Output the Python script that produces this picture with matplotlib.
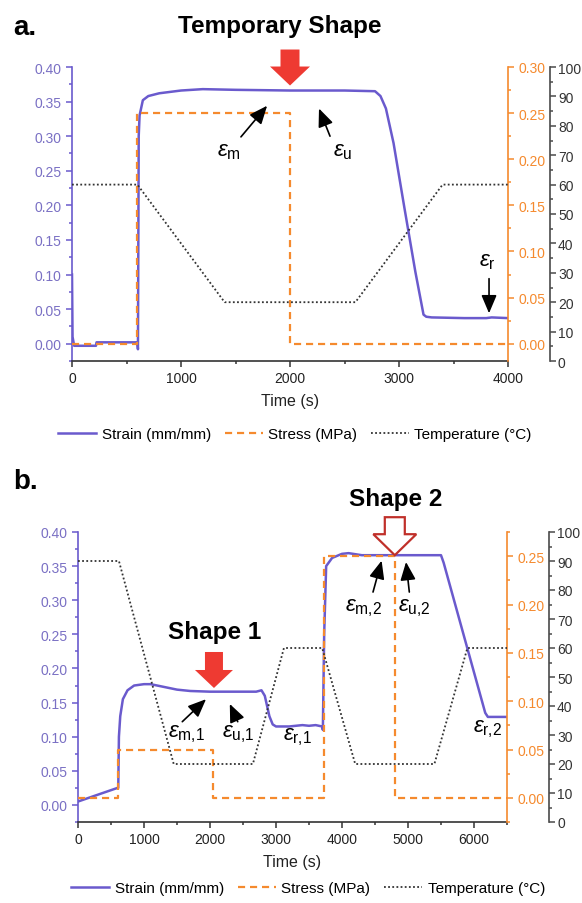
import matplotlib
matplotlib.use("Agg")
import matplotlib.pyplot as plt
import matplotlib.transforms as mtransforms
from matplotlib.patches import Polygon
from matplotlib.lines import Line2D
from matplotlib.ticker import MultipleLocator, FormatStrFormatter

plt.rcParams['font.family'] = ['Liberation Sans', 'DejaVu Sans']
plt.rcParams['mathtext.fontset'] = 'custom'
plt.rcParams['mathtext.rm'] = 'Liberation Sans'
plt.rcParams['mathtext.it'] = 'Liberation Sans:italic'
plt.rcParams['mathtext.bf'] = 'Liberation Sans:bold'

# ---- panel a data ----
time_a_strain = [0, 5, 20, 220, 225, 600, 605, 612, 620, 650, 700, 800, 900, 1000, 1200,
                 1500, 2000, 2500, 2780, 2830, 2880, 2950, 3050, 3150, 3225, 3250, 3300,
                 3600, 3800, 3850, 4000]
strain_a = [0.10, 0.01, -0.003, -0.003, 0.002, 0.002, -0.008, 0.30, 0.33, 0.352, 0.358,
            0.362, 0.364, 0.366, 0.368, 0.367, 0.366, 0.366, 0.365, 0.358, 0.34, 0.29,
            0.196, 0.104, 0.042, 0.039, 0.038, 0.037, 0.037, 0.038, 0.037]
time_a_stress = [0, 600, 600, 2000, 2000, 4000]
stress_a = [0.0, 0.0, 0.25, 0.25, 0.0, 0.0]
time_a_temp = [0, 600, 1400, 2600, 3400, 4000]
temp_a = [60, 60, 20, 20, 60, 60]

# ---- panel b data ----
time_b_strain = [0, 600, 610, 620, 640, 680, 750, 850, 1000, 1100, 1300, 1500, 1700, 2000,
                 2500, 2700, 2780, 2830, 2900, 2950, 3000, 3200, 3400, 3500, 3600, 3700,
                 3710, 3730, 3760, 3850, 4000, 4100, 4300, 5000, 5500, 5540, 6170, 6210, 6500]
strain_b = [0.005, 0.025, 0.025, 0.10, 0.13, 0.155, 0.168, 0.175, 0.177, 0.177, 0.173,
            0.169, 0.167, 0.166, 0.166, 0.166, 0.168, 0.16, 0.13, 0.118, 0.115, 0.115,
            0.117, 0.116, 0.117, 0.115, 0.11, 0.25, 0.35, 0.362, 0.368, 0.369, 0.366,
            0.366, 0.366, 0.355, 0.135, 0.129, 0.129]
time_b_stress = [0, 600, 600, 2050, 2050, 3720, 3720, 4800, 4800, 6500]
stress_b = [0.0, 0.0, 0.05, 0.05, 0.0, 0.0, 0.25, 0.25, 0.0, 0.0]
time_b_temp = [0, 620, 1450, 2650, 3120, 3700, 4200, 5400, 5900, 6500]
temp_b = [90, 90, 20, 20, 60, 60, 20, 20, 60, 60]

STRAIN_C = '#6a5acd'
STRAIN_TXT = '#7a70c4'
STRESS_C = '#f58a2e'
TEMP_C = '#333333'
TEMP_AX = '#4a4a4a'
RED = '#ee3a32'
DARKRED = '#c0302a'

fig = plt.figure(figsize=(5.82, 9.04), dpi=100)


def make_panel(rect, xmax, stress_lim):
    ax = fig.add_axes(rect)
    ax2 = ax.twinx()
    ax3 = ax.twinx()
    ax.set_xlim(0, xmax)
    ax.set_ylim(-0.025, 0.40)
    ax2.set_ylim(*stress_lim)
    ax3.set_ylim(0, 100)

    for a in (ax, ax2, ax3):
        a.spines['top'].set_visible(False)
    ax.spines['right'].set_visible(False)
    ax2.spines['left'].set_visible(False)
    ax3.spines['left'].set_visible(False)
    ax2.spines['bottom'].set_visible(False)
    ax3.spines['bottom'].set_visible(False)
    ax3.spines['right'].set_position(('outward', 30))

    ax.spines['left'].set_color(STRAIN_C)
    ax.spines['bottom'].set_color('#333333')
    ax2.spines['right'].set_color(STRESS_C)
    ax3.spines['right'].set_color(TEMP_AX)
    for sp in ('left', 'bottom'):
        ax.spines[sp].set_linewidth(1.2)
    ax2.spines['right'].set_linewidth(1.2)
    ax3.spines['right'].set_linewidth(1.2)

    ax.xaxis.set_major_locator(MultipleLocator(1000))
    ax.xaxis.set_minor_locator(MultipleLocator(500))
    ax.yaxis.set_major_locator(MultipleLocator(0.05))
    ax.yaxis.set_minor_locator(MultipleLocator(0.025))
    ax.yaxis.set_major_formatter(FormatStrFormatter('%.2f'))
    ax2.yaxis.set_major_locator(MultipleLocator(0.05))
    ax2.yaxis.set_minor_locator(MultipleLocator(0.025))
    ax2.yaxis.set_major_formatter(FormatStrFormatter('%.2f'))
    ax3.yaxis.set_major_locator(MultipleLocator(10))
    ax3.yaxis.set_minor_locator(MultipleLocator(5))

    ax.tick_params(axis='x', which='major', length=4, width=1.1, color='#333333',
                   labelsize=10, labelcolor='#222222', pad=3)
    ax.tick_params(axis='x', which='minor', length=2.5, width=1.1, color='#333333')
    ax.tick_params(axis='y', which='major', length=4, width=1.1, color=STRAIN_C,
                   labelsize=10, labelcolor=STRAIN_TXT)
    ax.tick_params(axis='y', which='minor', length=2.5, width=1.1, color=STRAIN_C)
    ax2.tick_params(axis='y', which='major', length=4, width=1.1, color=STRESS_C,
                    labelsize=10, labelcolor=STRESS_C)
    ax2.tick_params(axis='y', which='minor', length=2.5, width=1.1, color=STRESS_C)
    ax3.tick_params(axis='y', which='major', length=4, width=1.1, color=TEMP_AX,
                    labelsize=10, labelcolor='#333333', pad=2)
    ax3.tick_params(axis='y', which='minor', length=2.5, width=1.1, color=TEMP_AX)

    ax.set_xlabel('Time (s)', fontsize=11.5, color='#222222', labelpad=6)
    ax.patch.set_visible(False)
    return ax, ax2, ax3


def draw_series(axes, ts, s, tst, st, tt, temp):
    ax, ax2, ax3 = axes
    ax.plot(ts, s, color=STRAIN_C, lw=1.8, zorder=3)
    ax2.plot(tst, st, color=STRESS_C, lw=1.6, linestyle=(0, (3.2, 2.2)))
    ax3.plot(tt, temp, color=TEMP_C, lw=1.3, linestyle=(0, (1, 1.3)))


def block_arrow(ax, x, y, gap, shaft_w, head_w, head_h, shaft_h, face, edge, lw=0):
    verts = [(0, gap), (head_w / 2, gap + head_h), (shaft_w / 2, gap + head_h),
             (shaft_w / 2, gap + head_h + shaft_h), (-shaft_w / 2, gap + head_h + shaft_h),
             (-shaft_w / 2, gap + head_h), (-head_w / 2, gap + head_h)]
    trans = mtransforms.Affine2D() + mtransforms.ScaledTranslation(x, y, ax.transData)
    poly = Polygon(verts, closed=True, transform=trans, facecolor=face, edgecolor=edge,
                   linewidth=lw, clip_on=False, zorder=10)
    fig.add_artist(poly)


def eps(ax, top, label, xy_text, tail=None, tip=None):
    top.text(xy_text[0], xy_text[1], label, transform=ax.transData, fontsize=16,
             ha='center', va='center', color='black')
    if tail is not None:
        top.annotate('', xy=tip, xytext=tail, xycoords=ax.transData, textcoords=ax.transData,
                     arrowprops=dict(arrowstyle='-|>,head_length=0.85,head_width=0.36',
                                     mutation_scale=13, color='black', lw=1.2,
                                     shrinkA=0, shrinkB=0))


# ---- panel a ----
axes_a = make_panel([72 / 582, 1 - 362 / 904, 436 / 582, 294 / 904], 4000, (-0.01875, 0.30))
draw_series(axes_a, time_a_strain, strain_a, time_a_stress, stress_a, time_a_temp, temp_a)
ax, _, top = axes_a
eps(ax, top, r'$\varepsilon_{\mathrm{m}}$', (1440, 0.280), (1550, 0.299), (1790, 0.344))
eps(ax, top, r'$\varepsilon_{\mathrm{u}}$', (2480, 0.280), (2367, 0.300), (2266, 0.340))
eps(ax, top, r'$\varepsilon_{\mathrm{r}}$', (3810, 0.12), (3826, 0.094), (3826, 0.044))
block_arrow(ax, 2000, 0.366, 5, 19, 40, 19, 17, RED, RED)

fig.text(13 / 582, 1 - 28 / 904, 'a.', fontsize=20, fontweight='bold', va='center')
fig.text(280 / 582, 1 - 27 / 904, 'Temporary Shape', fontsize=17.5, fontweight='bold',
         ha='center', va='center')

# ---- panel b ----
axes_b = make_panel([78 / 582, 1 - 823 / 904, 429 / 582, 290 / 904], 6500, (-0.025, 0.275))
draw_series(axes_b, time_b_strain, strain_b, time_b_stress, stress_b, time_b_temp, temp_b)
ax, _, top = axes_b
eps(ax, top, r'$\varepsilon_{\mathrm{m{,}2}}$', (4330, 0.290), (4470, 0.312), (4600, 0.358))
eps(ax, top, r'$\varepsilon_{\mathrm{u{,}2}}$', (5100, 0.290), (5020, 0.312), (4970, 0.356))
eps(ax, top, r'$\varepsilon_{\mathrm{m{,}1}}$', (1640, 0.105), (1580, 0.122), (1940, 0.155))
eps(ax, top, r'$\varepsilon_{\mathrm{u{,}1}}$', (2430, 0.105), (2420, 0.122), (2300, 0.148))
eps(ax, top, r'$\varepsilon_{\mathrm{r{,}1}}$', (3330, 0.100))
eps(ax, top, r'$\varepsilon_{\mathrm{r{,}2}}$', (6200, 0.112))
block_arrow(ax, 2060, 0.167, 3, 18, 38, 18, 18, RED, RED)
block_arrow(ax, 4800, 0.366, 0, 20, 43, 21, 17, 'white', DARKRED, lw=1.6)

fig.text(13 / 582, 1 - 482 / 904, 'b.', fontsize=20, fontweight='bold', va='center')
fig.text(396 / 582, 1 - 500 / 904, 'Shape 2', fontsize=17.5, fontweight='bold',
         ha='center', va='center')
fig.text(215 / 582, 1 - 633 / 904, 'Shape 1', fontsize=17.5, fontweight='bold',
         ha='center', va='center')

# ---- legends ----
handles = [Line2D([], [], color=STRAIN_C, lw=1.8),
           Line2D([], [], color=STRESS_C, lw=1.6, linestyle=(0, (3.2, 2.2))),
           Line2D([], [], color=TEMP_C, lw=1.3, linestyle=(0, (1, 1.3)))]
labels = ['Strain (mm/mm)', 'Stress (MPa)', 'Temperature (\u00b0C)']
for cy, cx in ((1 - 435 / 904, 295 / 582), (1 - 889 / 904, 308 / 582)):
    fig.legend(handles, labels, loc='center', bbox_to_anchor=(cx, cy), ncol=3,
               frameon=False, fontsize=11, handlelength=2.5, columnspacing=0.9,
               handletextpad=0.35, borderpad=0)

fig.savefig('out.png', dpi=100)
